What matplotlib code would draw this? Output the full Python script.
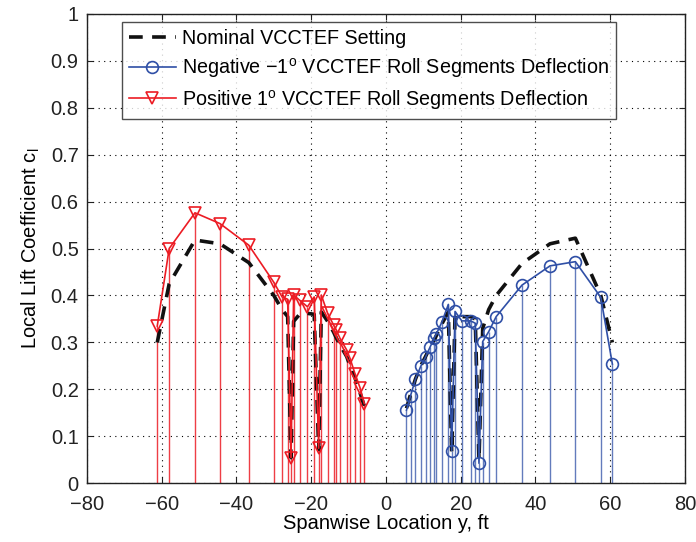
import numpy as np
import matplotlib
matplotlib.use('Agg')
import matplotlib.pyplot as plt

plt.rcParams['font.family'] = ['Liberation Sans', 'DejaVu Sans']
plt.rcParams['mathtext.fontset'] = 'custom'
plt.rcParams['mathtext.rm'] = 'Liberation Sans'
plt.rcParams['mathtext.it'] = 'Liberation Sans'

# left wing (positive 1 deg roll deflection)
y_left = [-61.2, -58.0, -51.1, -44.4, -36.7, -30.0, -27.8, -26.3, -25.4, -24.7, -23.1, -21.0,
          -19.2, -18.0, -17.3, -15.6, -14.0, -13.3, -12.3, -10.5, -9.6, -8.3, -6.9, -5.8]
cl_pos = [0.335, 0.500, 0.576, 0.553, 0.507, 0.428, 0.397, 0.392, 0.055, 0.401, 0.390, 0.376,
          0.397, 0.075, 0.401, 0.362, 0.337, 0.327, 0.309, 0.284, 0.266, 0.234, 0.203, 0.170]
cl_nom_left = [0.300, 0.425, 0.518, 0.510, 0.470, 0.400, 0.370, 0.355, 0.055, 0.345, 0.360, 0.362,
               0.360, 0.072, 0.365, 0.345, 0.322, 0.310, 0.295, 0.270, 0.250, 0.225, 0.192, 0.165]

# right wing (negative -1 deg roll deflection)
y_right = [5.5, 6.6, 7.9, 9.3, 10.6, 11.8, 12.9, 13.5, 15.0, 16.7, 17.6, 18.5,
           20.3, 22.7, 23.9, 24.9, 25.9, 27.5, 29.5, 36.4, 43.9, 50.7, 57.5, 60.6]
cl_neg = [0.156, 0.187, 0.222, 0.249, 0.269, 0.290, 0.309, 0.318, 0.344, 0.381, 0.070, 0.366,
          0.346, 0.346, 0.341, 0.043, 0.302, 0.323, 0.355, 0.422, 0.463, 0.472, 0.396, 0.254]
cl_nom_right = [0.160, 0.190, 0.222, 0.250, 0.270, 0.290, 0.305, 0.315, 0.340, 0.365, 0.065, 0.360,
                0.355, 0.355, 0.350, 0.050, 0.330, 0.370, 0.400, 0.468, 0.510, 0.522, 0.400, 0.300]

blue = '#2f4fa6'
red = '#ec1c24'
fs = 14.5

fig = plt.figure(figsize=(6.96, 5.42), dpi=100)
ax = fig.add_axes([0.125, 0.108, 0.859, 0.867])

# stems
ax.vlines(y_right, 0, cl_neg, color=blue, lw=1.0, alpha=0.75)
ax.vlines(y_left, 0, cl_pos, color=red, lw=1.0, alpha=0.85)

nom, = ax.plot(y_left, cl_nom_left, color='#111111', ls='--', lw=2.6, dashes=(3.8, 2.6),
               label='Nominal VCCTEF Setting')
ax.plot(y_right, cl_nom_right, color='#111111', ls='--', lw=2.6, dashes=(3.8, 2.6))
neg, = ax.plot(y_right, cl_neg, color=blue, lw=1.2, marker='o', ms=8.5, mfc='none', mew=1.2,
               label=r'Negative $-1^{\rm o}$ VCCTEF Roll Segments Deflection')
pos, = ax.plot(y_left, cl_pos, color=red, lw=1.2, marker='v', ms=9, mfc='none', mew=1.2,
               label=r'Positive $1^{\rm o}$ VCCTEF Roll Segments Deflection')

ax.set_xlim(-80, 80)
ax.set_ylim(0, 1)
ax.set_xticks(np.arange(-80, 81, 20))
ax.set_yticks(np.arange(0, 1.01, 0.1))
ax.set_yticklabels(['0', '0.1', '0.2', '0.3', '0.4', '0.5', '0.6', '0.7', '0.8', '0.9', '1'])
ax.grid(True, color='black', ls=(0, (1, 4)), lw=0.8)
ax.tick_params(direction='in', top=True, right=True, labelsize=fs, length=4, colors='#222222')
ax.tick_params(axis='x', pad=8)
ax.tick_params(axis='y', pad=6)
for s in ax.spines.values():
    s.set_linewidth(1.0)
    s.set_color('#222222')

ax.set_xlabel('Spanwise Location y, ft', fontsize=fs, labelpad=0)
ax.set_ylabel(r'Local Lift Coefficient c$_{\rm l}$', fontsize=fs, labelpad=6)

leg = ax.legend(handles=[nom, neg, pos], loc='upper left', bbox_to_anchor=(0.058, 0.982),
                fontsize=14.2, frameon=True, fancybox=False, edgecolor='#222222',
                handlelength=2.4, borderpad=0.35, labelspacing=0.4, handletextpad=0.3,
                borderaxespad=0)
leg.get_frame().set_linewidth(1.0)

plt.savefig('out.png', dpi=100)
